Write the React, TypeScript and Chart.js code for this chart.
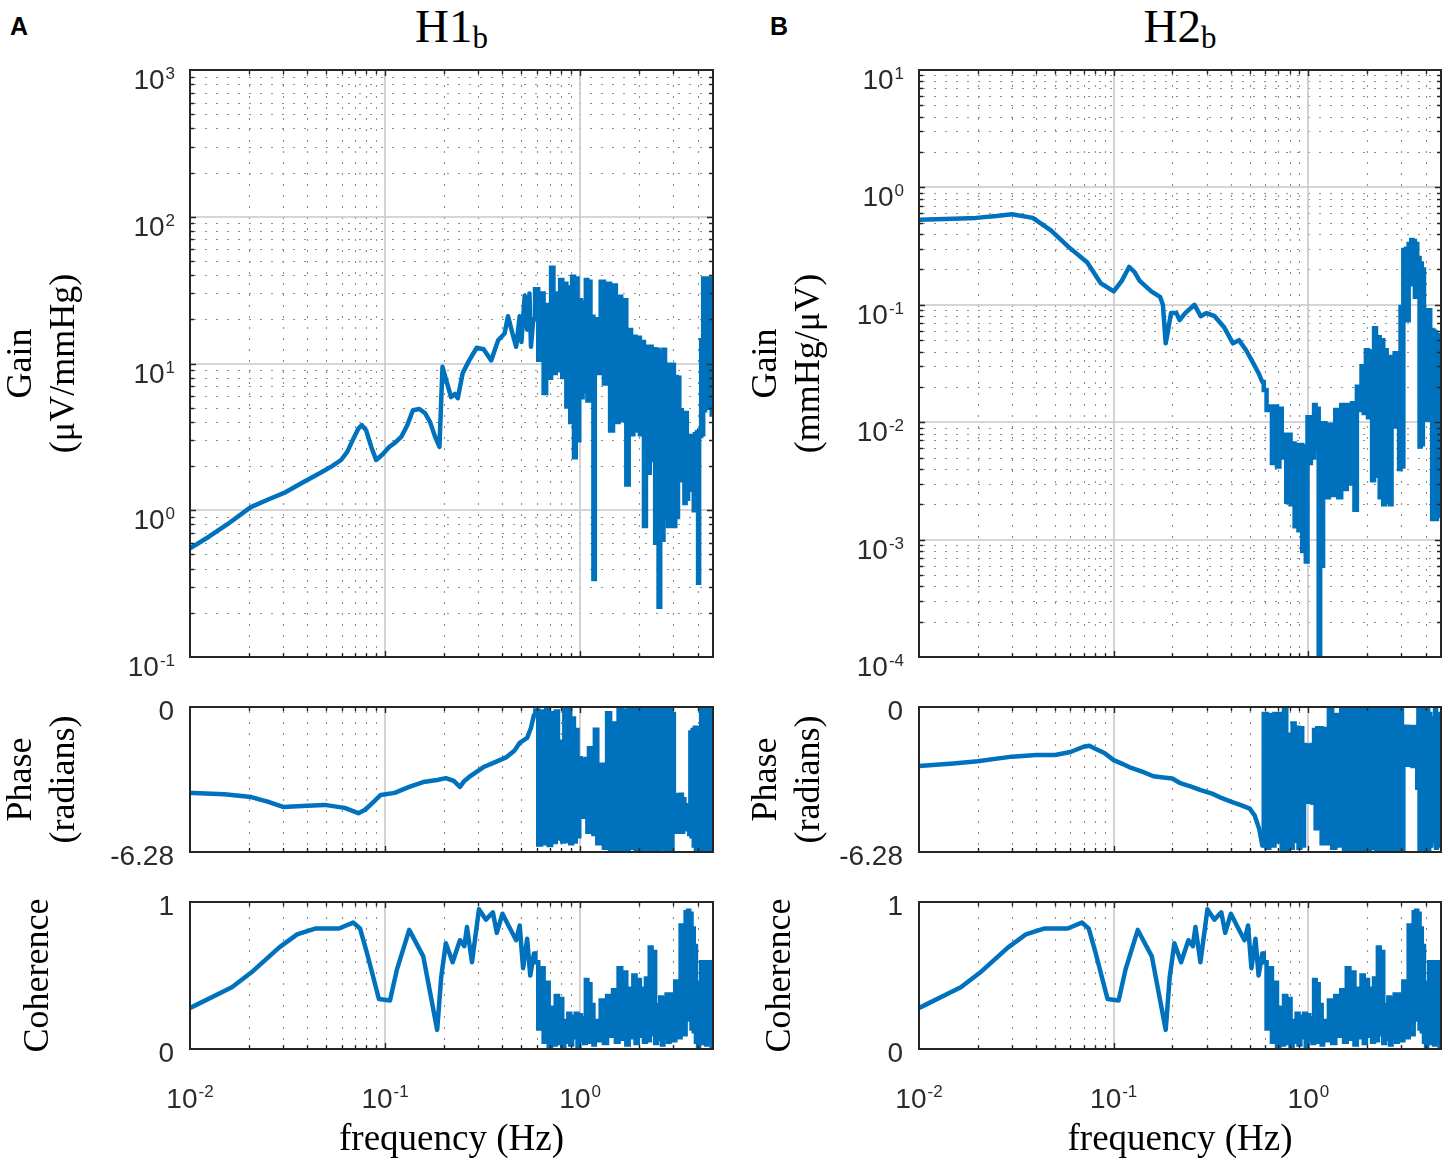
import React, { useEffect, useRef } from 'react';
import { Chart, registerables } from 'chart.js';

Chart.register(...registerables);

// ---------------- data ----------------
// shared frequency grid of the high-frequency (noisy) part, Hz
const NOISE_FREQ = [
  0.60, 0.62, 0.64, 0.66, 0.68, 0.70, 0.72, 0.74, 0.76, 0.78,
  0.80, 0.82, 0.84, 0.86, 0.88, 0.90, 0.92, 0.94, 0.96, 0.98,
  1.00, 1.02, 1.04, 1.06, 1.08, 1.10, 1.12, 1.14, 1.16, 1.18,
  1.20, 1.25, 1.30, 1.35, 1.40, 1.45, 1.50, 1.55, 1.60, 1.65,
  1.70, 1.75, 1.80, 1.85, 1.90, 1.95, 2.00, 2.05, 2.10, 2.15,
  2.20, 2.25, 2.30, 2.35, 2.40, 2.45, 2.50, 2.55, 2.60, 2.65,
  2.70, 2.75, 2.80, 2.85, 2.90, 2.95, 3.00, 3.05, 3.10, 3.15,
  3.20, 3.25, 3.30, 3.35, 3.40, 3.45, 3.50, 3.55, 3.60, 3.65,
  3.70, 3.75, 3.80, 3.85, 3.90, 3.95, 4.00, 4.05, 4.10, 4.15,
  4.20, 4.25, 4.30, 4.35, 4.40, 4.45, 4.50, 4.55, 4.60, 4.65,
  4.70, 4.75, 4.80,
];

// H1b gain (uV/mmHg)
const GAIN_A_LOW_FREQ = [
  0.01, 0.0125, 0.0155, 0.0205, 0.025, 0.031, 0.038, 0.0467, 0.0535, 0.0595,
  0.064, 0.069, 0.073, 0.076, 0.080, 0.085, 0.090, 0.097, 0.105, 0.113,
  0.121, 0.130, 0.139, 0.150, 0.160, 0.170, 0.180, 0.190, 0.197, 0.207,
  0.218, 0.228, 0.236, 0.25, 0.27, 0.295, 0.32, 0.35, 0.38, 0.41,
  0.427, 0.45, 0.47, 0.49, 0.50, 0.52, 0.535, 0.55, 0.56, 0.575,
];
const GAIN_A_LOW = [
  0.55, 0.66, 0.8, 1.05, 1.18, 1.33, 1.55, 1.8, 2.0, 2.2,
  2.5, 3.1, 3.6, 3.8, 3.5, 2.7, 2.2, 2.4, 2.7, 2.9,
  3.16, 3.8, 4.8, 4.9, 4.6, 4.0, 3.2, 2.7, 9.5, 7.5,
  5.9, 6.2, 5.8, 8.6, 10.5, 12.8, 12.5, 10.5, 14.4, 16,
  21, 16, 13, 21, 14, 29, 17, 30, 13, 20,
];
const GAIN_A_NOISE = [
  32, 10.6, 30, 6.3, 25, 8, 45, 8.6, 30, 9,
  37, 8.1, 35, 5.1, 33, 4, 39, 2.3, 38, 3,
  27, 5.9, 26, 6.5, 37, 5.6, 36, 6, 20.8, 0.34,
  20, 8.6, 36, 7.3, 35, 3.5, 34, 4, 28.5, 4.1,
  27, 1.5, 16.9, 3.3, 15.2, 3.5, 15, 3.3, 14, 0.78,
  13, 1.8, 13, 2.2, 12.5, 0.6, 12.4, 0.22, 12, 0.63,
  12.4, 0.9, 9.8, 0.78, 9.5, 1.2, 9.8, 0.78, 8.1, 0.9,
  8, 1.6, 4.8, 1.7, 4.6, 1.12, 4.6, 1.2, 3.2, 1.38,
  3.1, 1.4, 3.2, 1.0, 3.3, 1.1, 3.4, 0.32, 3.5, 3.2,
  14.4, 3.3, 38, 4.8, 37, 5, 38, 6, 36, 5,
  38, 4.5, 10,
];

// H2b gain (mmHg/uV)
const GAIN_B_LOW_FREQ = [
  0.01, 0.015, 0.0196, 0.025, 0.030, 0.0384, 0.0476, 0.0588, 0.073, 0.086,
  0.1, 0.11, 0.12, 0.128, 0.136, 0.156, 0.173, 0.179, 0.185, 0.19,
  0.197, 0.21, 0.218, 0.233, 0.26, 0.28, 0.30, 0.33, 0.37, 0.41,
  0.44, 0.479, 0.51, 0.556, 0.58,
];
const GAIN_B_LOW = [
  0.53, 0.54, 0.55, 0.57, 0.59, 0.55, 0.43, 0.31, 0.23, 0.152,
  0.13, 0.16, 0.21, 0.19, 0.16, 0.13, 0.117, 0.10, 0.047, 0.06,
  0.085, 0.085, 0.074, 0.085, 0.10, 0.08, 0.085, 0.08, 0.064, 0.047,
  0.05, 0.041, 0.034, 0.026, 0.022,
];
const GAIN_B_NOISE = [
  0.0188, 0.0127, 0.0136, 0.0045, 0.0136, 0.0042, 0.013, 0.0050, 0.0078, 0.0021,
  0.0078, 0.0020, 0.0066, 0.0013, 0.0064, 0.0012, 0.0064, 0.0008, 0.0062, 0.00065,
  0.011, 0.0045, 0.011, 0.0050, 0.014, 0.006, 0.013, 0.00009, 0.0098, 0.0006,
  0.0098, 0.0023, 0.0095, 0.0024, 0.0127, 0.0023, 0.014, 0.0027, 0.014, 0.0030,
  0.0145, 0.0018, 0.020, 0.0127, 0.030, 0.012, 0.041, 0.011, 0.040, 0.0032,
  0.063, 0.0035, 0.053, 0.0023, 0.050, 0.0020, 0.041, 0.0021, 0.036, 0.0020,
  0.036, 0.0092, 0.0386, 0.0095, 0.037, 0.0040, 0.096, 0.0042, 0.293, 0.08,
  0.30, 0.074, 0.33, 0.15, 0.356, 0.20, 0.35, 0.117, 0.33, 0.12,
  0.25, 0.0062, 0.225, 0.0065, 0.2, 0.0105, 0.09, 0.011, 0.088, 0.0105,
  0.09, 0.011, 0.061, 0.0015, 0.06, 0.0016, 0.058, 0.0015, 0.055, 0.0016,
  0.019, 0.0016, 0.006,
];

// H1b phase (radians)
const PHASE_A_LOW_FREQ = [
  0.01, 0.0104, 0.015, 0.0206, 0.025, 0.03, 0.04, 0.049, 0.062, 0.068,
  0.073, 0.079, 0.086, 0.095, 0.112, 0.133, 0.157, 0.185, 0.205, 0.225,
  0.242, 0.255, 0.27, 0.32, 0.357, 0.42, 0.46, 0.49, 0.535, 0.56,
  0.58,
];
const PHASE_A_LOW = [
  -3.72, -3.72, -3.78, -3.9, -4.1, -4.33, -4.28, -4.24, -4.37, -4.5,
  -4.6, -4.45, -4.16, -3.81, -3.72, -3.46, -3.25, -3.16, -3.08, -3.2,
  -3.46, -3.2, -3.03, -2.6, -2.43, -2.17, -1.9, -1.55, -1.34, -0.9,
  -0.35,
];
const PHASE_A_NOISE = [
  -0.15, -5.95, -0.20, -5.90, -0.10, -5.98, -0.27, -5.85, -0.20, -5.70,
  -1.5, -5.83, -0.06, -5.80, -0.08, -5.90, -0.5, -5.83, -1.0, -5.6,
  -2.22, -4.75, -2.3, -4.75, -2.25, -5.40, -1.79, -5.35, -1.80, -5.5,
  -0.99, -5.9, -2.5, -6.1, -0.27, -6.2, -0.71, -6.25, -0.13, -6.2,
  -0.15, -6.26, -0.10, -6.1, -0.06, -6.26, -0.08, -6.2, -0.05, -6.26,
  -0.06, -6.15, -0.04, -6.26, -0.1, -6.2, -0.05, -6.26, -0.08, -6.1,
  -0.06, -6.26, -0.04, -6.2, -0.07, -6.26, -0.3, -5.4, -3.81, -5.40,
  -3.85, -5.35, -3.8, -5.40, -4.0, -5.3, -4.25, -5.25, -4.3, -5.5,
  -1.1, -5.6, -1.0, -6.0, -0.9, -6.26, -0.9, -6.2, -1.0, -6.26,
  -0.13, -6.2, -0.10, -6.26, -0.15, -6.1, -0.08, -6.26, -0.12, -6.2,
  -0.06, -6.26, -3.5,
];

// H2b phase (radians)
const PHASE_B_LOW_FREQ = [
  0.01, 0.015, 0.02, 0.03, 0.04, 0.05, 0.06, 0.07, 0.075, 0.08,
  0.09, 0.10, 0.11, 0.12, 0.14, 0.16, 0.18, 0.20, 0.22, 0.25,
  0.28, 0.32, 0.36, 0.40, 0.45, 0.50, 0.53, 0.56, 0.58,
];
const PHASE_B_LOW = [
  -2.56, -2.45, -2.35, -2.15, -2.08, -2.08, -1.95, -1.72, -1.68, -1.80,
  -2.0, -2.3, -2.45, -2.6, -2.8, -3.0, -3.05, -3.1, -3.3, -3.45,
  -3.6, -3.75, -3.95, -4.1, -4.25, -4.4, -4.7, -5.3, -6.0,
];
const PHASE_B_NOISE = [
  -0.30, -6.1, -0.35, -6.0, -0.30, -5.83, -0.30, -6.2, -0.06, -6.26,
  -1.2, -6.1, -0.71, -5.8, -0.9, -6.1, -0.92, -6.0, -1.65, -4.1,
  -1.7, -4.1, -1.65, -4.15, -1.0, -5.25, -0.92, -5.2, -0.92, -5.9,
  -0.95, -5.9, -0.06, -6.1, -0.35, -6.0, -0.06, -6.2, -0.08, -6.26,
  -0.06, -6.15, -0.1, -6.26, -0.05, -6.2, -0.07, -6.26, -0.06, -6.1,
  -0.04, -6.26, -0.08, -6.2, -0.06, -6.26, -0.1, -6.15, -0.05, -6.26,
  -0.07, -6.2, -0.06, -6.26, -0.08, -6.1, -0.06, -6.2, -0.9, -2.5,
  -0.85, -2.45, -0.87, -2.5, -0.9, -2.55, -0.87, -2.4, -0.9, -3.5,
  -0.06, -6.26, -0.08, -6.2, -0.06, -6.26, -0.1, -6.15, -0.06, -6.26,
  -0.3, -6.0, -0.5, -5.8, -0.9, -5.5, -0.06, -6.1, -0.3, -6.0,
  -0.5, -5.5, -1.0,
];

// coherence (identical for both directions)
const COH_LOW_FREQ = [
  0.01, 0.0104, 0.0164, 0.0206, 0.0286, 0.0354, 0.0442, 0.058, 0.0686, 0.0744,
  0.0809, 0.093, 0.106, 0.115, 0.133, 0.157, 0.185, 0.194, 0.205, 0.222,
  0.242, 0.255, 0.263, 0.279, 0.303, 0.329, 0.357, 0.374, 0.40, 0.433,
  0.47, 0.49, 0.51, 0.535, 0.555, 0.58,
];
const COH_LOW = [
  0.28, 0.29, 0.42, 0.52, 0.69, 0.78, 0.82, 0.82, 0.86, 0.82,
  0.65, 0.34, 0.33, 0.54, 0.81, 0.63, 0.13, 0.49, 0.72, 0.59,
  0.74, 0.70, 0.83, 0.59, 0.95, 0.88, 0.93, 0.79, 0.92, 0.83,
  0.74, 0.84, 0.55, 0.75, 0.50, 0.65,
];
const COH_NOISE = [
  0.59, 0.14, 0.55, 0.05, 0.45, 0.01, 0.28, 0.03, 0.36, 0.04,
  0.34, 0.02, 0.19, 0.05, 0.24, 0.03, 0.22, 0.08, 0.24, 0.02,
  0.23, 0.06, 0.21, 0.04, 0.47, 0.05, 0.44, 0.08, 0.30, 0.03,
  0.19, 0.06, 0.33, 0.04, 0.36, 0.09, 0.40, 0.05, 0.55, 0.07,
  0.52, 0.03, 0.41, 0.08, 0.50, 0.04, 0.47, 0.09, 0.41, 0.05,
  0.48, 0.06, 0.69, 0.10, 0.66, 0.04, 0.30, 0.07, 0.35, 0.03,
  0.34, 0.08, 0.37, 0.05, 0.36, 0.10, 0.37, 0.06, 0.46, 0.12,
  0.44, 0.08, 0.84, 0.15, 0.80, 0.10, 0.93, 0.20, 0.94, 0.25,
  0.92, 0.14, 0.82, 0.12, 0.70, 0.05, 0.45, 0.02, 0.35, 0.06,
  0.59, 0.04, 0.58, 0.08, 0.59, 0.03, 0.57, 0.10, 0.59, 0.05,
  0.55, 0.02, 0.30,
];

// axis ticks
const X_MIN = 0.01;
const X_MAX = 4.8;
const X_TICK_EXPONENTS = [-2, -1, 0];
const GAIN_A_TICK_EXPONENTS = [3, 2, 1, 0, -1];
const GAIN_B_TICK_EXPONENTS = [1, 0, -1, -2, -3, -4];
const PHASE_TICKS = [0, -6.28];
const PHASE_TICK_LABELS = ['0', '-6.28'];
const COH_TICKS = [1, 0];
const COH_TICK_LABELS = ['1', '0'];

// ---------------- styling / layout ----------------
const PAGE_W = 1450;
const PAGE_H = 1168;
const PAD = 6;
const PAD_BOTTOM = 26;
const LINE_COLOR = '#0072BD';
const LINE_WIDTH = 4.5;
const AXIS_COLOR = '#262626';
const TICK_TEXT = '#2b2b2b';
const MAJOR_GRID = 'rgba(200,200,200,1)';
const MINOR_GRID = 'rgba(105,105,105,0.75)';
const SERIF = '"Liberation Serif", "Times New Roman", serif';
const SANS = '"Liberation Sans", Arial, sans-serif';
const TITLE_FONT_SIZE = 36;
const TITLE_LH = 1.17;

const COLS = {
  A: { canvasLeft: 0, plotLeft: 190, plotRight: 713 },
  B: { canvasLeft: 725, plotLeft: 919, plotRight: 1441 },
};
const ROWS = {
  gain: { top: 70, bottom: 657 },
  phase: { top: 707, bottom: 852 },
  coh: { top: 902, bottom: 1049 },
};

type Pt = { x: number; y: number };
const toPoints = (fs: number[], vs: number[]): Pt[] => {
  const n = Math.min(fs.length, vs.length);
  const out: Pt[] = [];
  for (let i = 0; i < n; i++) out.push({ x: fs[i], y: vs[i] });
  return out;
};

type LabelDef = { value: number; text?: string; exp?: number };

type PanelDef = {
  id: string;
  col: 'A' | 'B';
  row: 'gain' | 'phase' | 'coh';
  yType: 'logarithmic' | 'linear';
  yMin: number;
  yMax: number;
  yTitle: string[];
  yTitleCenter: number;
  yLabels: LabelDef[];
  low: Pt[];
  noise: Pt[];
};

const expLabels = (exps: number[]): LabelDef[] => exps.map((e) => ({ value: Math.pow(10, e), exp: e }));
const linLabels = (vals: number[], texts: string[]): LabelDef[] => vals.map((v, i) => ({ value: v, text: texts[i] }));

const PANELS: PanelDef[] = [
  { id: 'ag', col: 'A', row: 'gain', yType: 'logarithmic', yMin: 0.1, yMax: 1000, yTitle: ['Gain', '(\u03bcV/mmHg)'], yTitleCenter: 22, yLabels: expLabels(GAIN_A_TICK_EXPONENTS), low: toPoints(GAIN_A_LOW_FREQ, GAIN_A_LOW), noise: toPoints(NOISE_FREQ, GAIN_A_NOISE) },
  { id: 'ap', col: 'A', row: 'phase', yType: 'linear', yMin: -6.28, yMax: 0, yTitle: ['Phase', '(radians)'], yTitleCenter: 22, yLabels: linLabels(PHASE_TICKS, PHASE_TICK_LABELS), low: toPoints(PHASE_A_LOW_FREQ, PHASE_A_LOW), noise: toPoints(NOISE_FREQ, PHASE_A_NOISE) },
  { id: 'ac', col: 'A', row: 'coh', yType: 'linear', yMin: 0, yMax: 1, yTitle: ['Coherence'], yTitleCenter: 39, yLabels: linLabels(COH_TICKS, COH_TICK_LABELS), low: toPoints(COH_LOW_FREQ, COH_LOW), noise: toPoints(NOISE_FREQ, COH_NOISE) },
  { id: 'bg', col: 'B', row: 'gain', yType: 'logarithmic', yMin: 0.0001, yMax: 10, yTitle: ['Gain', '(mmHg/\u03bcV)'], yTitleCenter: 42, yLabels: expLabels(GAIN_B_TICK_EXPONENTS), low: toPoints(GAIN_B_LOW_FREQ, GAIN_B_LOW), noise: toPoints(NOISE_FREQ, GAIN_B_NOISE) },
  { id: 'bp', col: 'B', row: 'phase', yType: 'linear', yMin: -6.28, yMax: 0, yTitle: ['Phase', '(radians)'], yTitleCenter: 42, yLabels: linLabels(PHASE_TICKS, PHASE_TICK_LABELS), low: toPoints(PHASE_B_LOW_FREQ, PHASE_B_LOW), noise: toPoints(NOISE_FREQ, PHASE_B_NOISE) },
  { id: 'bc', col: 'B', row: 'coh', yType: 'linear', yMin: 0, yMax: 1, yTitle: ['Coherence'], yTitleCenter: 56, yLabels: linLabels(COH_TICKS, COH_TICK_LABELS), low: toPoints(COH_LOW_FREQ, COH_LOW), noise: toPoints(NOISE_FREQ, COH_NOISE) },
];

function logDecades(min: number, max: number): number[] {
  const out: number[] = [];
  for (let e = Math.floor(Math.log10(min) + 1e-9); Math.pow(10, e) <= max * 1.0001; e++) out.push(Math.pow(10, e));
  return out;
}
function logMinor(min: number, max: number): number[] {
  const out: number[] = [];
  for (const d of logDecades(min, max)) {
    for (let m = 2; m <= 9; m++) {
      const v = m * d;
      if (v > min * 1.0001 && v < max * 0.9999) out.push(v);
    }
  }
  return out;
}
function logMajorInner(min: number, max: number): number[] {
  return logDecades(min, max).filter((v) => v > min * 1.0001 && v < max * 0.9999);
}

const X_MINOR = logMinor(X_MIN, X_MAX);
const X_MAJOR = logMajorInner(X_MIN, X_MAX);

function drawPow(ctx: CanvasRenderingContext2D, exp: number, x: number, anchor: 'right' | 'center', base10: number, baseExp: number) {
  const big = `28px ${SANS}`;
  const small = `17px ${SANS}`;
  ctx.font = big;
  const w1 = ctx.measureText('10').width;
  ctx.font = small;
  const e = String(exp);
  const w2 = ctx.measureText(e).width;
  const total = w1 + 1 + w2;
  const x0 = anchor === 'right' ? x - total : x - total / 2;
  ctx.textAlign = 'left';
  ctx.textBaseline = 'alphabetic';
  ctx.font = big;
  ctx.fillText('10', x0, base10);
  ctx.font = small;
  ctx.fillText(e, x0 + w1 + 1, baseExp);
}

function makeFramePlugin(def: PanelDef, showX: boolean) {
  return {
    id: 'frame_' + def.id,
    beforeDatasetsDraw(chart: any) {
      const { ctx, chartArea: a, scales } = chart;
      const xs = scales.x;
      const ys = scales.y;
      ctx.save();
      // minor grid (dotted)
      ctx.lineWidth = 1.1;
      ctx.strokeStyle = MINOR_GRID;
      ctx.setLineDash([2, 9]);
      ctx.beginPath();
      for (const v of X_MINOR) {
        const p = Math.round(xs.getPixelForValue(v)) + 0.5;
        ctx.moveTo(p, a.top + 4);
        ctx.lineTo(p, a.bottom);
      }
      if (def.yType === 'logarithmic') {
        for (const v of logMinor(def.yMin, def.yMax)) {
          const p = Math.round(ys.getPixelForValue(v)) + 0.5;
          ctx.moveTo(a.left + 4, p);
          ctx.lineTo(a.right, p);
        }
      }
      ctx.stroke();
      // major grid (solid, light)
      ctx.setLineDash([]);
      ctx.strokeStyle = MAJOR_GRID;
      ctx.lineWidth = 1.6;
      ctx.beginPath();
      for (const v of X_MAJOR) {
        const p = Math.round(xs.getPixelForValue(v));
        ctx.moveTo(p, a.top);
        ctx.lineTo(p, a.bottom);
      }
      if (def.yType === 'logarithmic') {
        for (const v of logMajorInner(def.yMin, def.yMax)) {
          const p = Math.round(ys.getPixelForValue(v));
          ctx.moveTo(a.left, p);
          ctx.lineTo(a.right, p);
        }
      }
      ctx.stroke();
      ctx.restore();
    },
    afterDatasetsDraw(chart: any) {
      const { ctx, chartArea: a, scales } = chart;
      const xs = scales.x;
      const ys = scales.y;
      ctx.save();
      // tick marks (inside, all four sides)
      ctx.strokeStyle = AXIS_COLOR;
      ctx.lineWidth = 1.4;
      ctx.beginPath();
      const xt = [...X_MAJOR.map((v) => [v, 6]), ...X_MINOR.map((v) => [v, 4])];
      for (const [v, len] of xt) {
        const p = Math.round(xs.getPixelForValue(v)) + 0.5;
        ctx.moveTo(p, a.bottom);
        ctx.lineTo(p, a.bottom - len);
        ctx.moveTo(p, a.top);
        ctx.lineTo(p, a.top + len);
      }
      if (def.yType === 'logarithmic') {
        const yt = [...logMajorInner(def.yMin, def.yMax).map((v) => [v, 6]), ...logMinor(def.yMin, def.yMax).map((v) => [v, 4])];
        for (const [v, len] of yt) {
          const p = Math.round(ys.getPixelForValue(v)) + 0.5;
          ctx.moveTo(a.left, p);
          ctx.lineTo(a.left + len, p);
          ctx.moveTo(a.right, p);
          ctx.lineTo(a.right - len, p);
        }
      }
      ctx.stroke();
      // box
      ctx.lineWidth = 2;
      ctx.strokeRect(a.left, a.top, a.right - a.left, a.bottom - a.top);

      // tick labels
      ctx.fillStyle = TICK_TEXT;
      const labelRight = a.left - 16;
      for (const lab of def.yLabels) {
        const py = ys.getPixelForValue(lab.value);
        if (lab.exp !== undefined) {
          drawPow(ctx, lab.exp, labelRight + 1, 'right', py + 19, py + 9);
        } else if (lab.text !== undefined) {
          ctx.font = `28px ${SANS}`;
          ctx.textAlign = 'right';
          ctx.textBaseline = 'alphabetic';
          ctx.fillText(lab.text, labelRight, py + 13);
        }
      }
      if (showX) {
        for (const e of X_TICK_EXPONENTS) {
          const px = xs.getPixelForValue(Math.pow(10, e));
          drawPow(ctx, e, px, 'center', a.bottom + 59, a.bottom + 48);
        }
      }
      ctx.restore();
    },
  };
}

function Panel({ def }: { def: PanelDef }) {
  const ref = useRef<HTMLCanvasElement | null>(null);
  const col = COLS[def.col];
  const row = ROWS[def.row];
  const showX = def.row === 'coh';
  const top = row.top - PAD;
  const left = col.canvasLeft;
  const width = col.plotRight + PAD - left;
  const height = showX ? PAGE_H - top : row.bottom + PAD_BOTTOM - top;

  useEffect(() => {
    if (!ref.current) return;
    const lastLow = def.low[def.low.length - 1];
    const chart = new Chart(ref.current, {
      type: 'line',
      data: {
        datasets: [
          {
            data: def.low as any,
            borderColor: LINE_COLOR,
            borderWidth: LINE_WIDTH,
            borderJoinStyle: 'round',
            borderCapStyle: 'round',
            pointRadius: 0,
            pointHoverRadius: 0,
            fill: false,
            tension: 0,
          },
          {
            data: [lastLow, ...def.noise] as any,
            borderColor: LINE_COLOR,
            borderWidth: LINE_WIDTH,
            borderJoinStyle: 'miter',
            pointRadius: 0,
            pointHoverRadius: 0,
            fill: false,
            stepped: 'middle',
          },
        ],
      },
      options: {
        responsive: false,
        animation: false,
        events: [],
        parsing: false,
        layout: { padding: { left: 0, top: PAD, right: PAD, bottom: showX ? 0 : PAD_BOTTOM } },
        plugins: { legend: { display: false }, tooltip: { enabled: false }, title: { display: false } },
        scales: {
          x: {
            type: 'logarithmic',
            min: X_MIN,
            max: X_MAX,
            display: showX,
            grid: { display: false },
            border: { display: false },
            ticks: { display: false },
            title: {
              display: showX,
              text: 'frequency (Hz)',
              color: '#000',
              font: { family: SERIF, size: 37, lineHeight: 1.0 },
              padding: { top: 0, bottom: 9 },
            },
            afterFit: (s: any) => {
              s.height = showX ? PAGE_H - row.bottom : 0;
            },
          },
          y: {
            type: def.yType,
            min: def.yMin,
            max: def.yMax,
            grid: { display: false },
            border: { display: false },
            ticks: { display: false },
            title: {
              display: true,
              text: def.yTitle,
              color: '#000',
              font: { family: SERIF, size: TITLE_FONT_SIZE, lineHeight: TITLE_LH },
              padding: { top: def.yTitleCenter - (TITLE_FONT_SIZE * TITLE_LH) / 2, bottom: 0 },
            },
            afterFit: (s: any) => {
              s.width = col.plotLeft - col.canvasLeft;
            },
          },
        },
      } as any,
      plugins: [makeFramePlugin(def, showX) as any],
    });
    return () => chart.destroy();
  }, []);

  return (
    <canvas
      ref={ref}
      width={width}
      height={height}
      style={{ position: 'absolute', left, top, width, height, display: 'block' }}
    />
  );
}

function PlotTitle({ main, sub, col }: { main: string; sub: string; col: 'A' | 'B' }) {
  const c = COLS[col];
  return (
    <div
      style={{
        position: 'absolute',
        left: c.plotLeft,
        width: c.plotRight - c.plotLeft,
        top: 3,
        textAlign: 'center',
        fontFamily: SERIF,
        fontSize: 47,
        lineHeight: '47px',
        color: '#000',
        whiteSpace: 'nowrap',
      }}
    >
      {main}
      <span style={{ fontSize: 31, position: 'relative', top: 6 }}>{sub}</span>
    </div>
  );
}

function PanelLetter({ text, left }: { text: string; left: number }) {
  return (
    <div
      style={{
        position: 'absolute',
        left,
        top: 14,
        fontFamily: SANS,
        fontWeight: 'bold',
        fontSize: 25,
        lineHeight: '25px',
        color: '#000',
      }}
    >
      {text}
    </div>
  );
}

export default function App() {
  return (
    <div
      style={{
        position: 'absolute',
        left: 0,
        top: 0,
        width: PAGE_W,
        height: PAGE_H,
        background: '#fff',
        overflow: 'hidden',
      }}
    >
      <PanelLetter text="A" left={10} />
      <PanelLetter text="B" left={770} />
      <PlotTitle main="H1" sub="b" col="A" />
      <PlotTitle main="H2" sub="b" col="B" />
      {PANELS.map((p) => (
        <Panel key={p.id} def={p} />
      ))}
    </div>
  );
}
